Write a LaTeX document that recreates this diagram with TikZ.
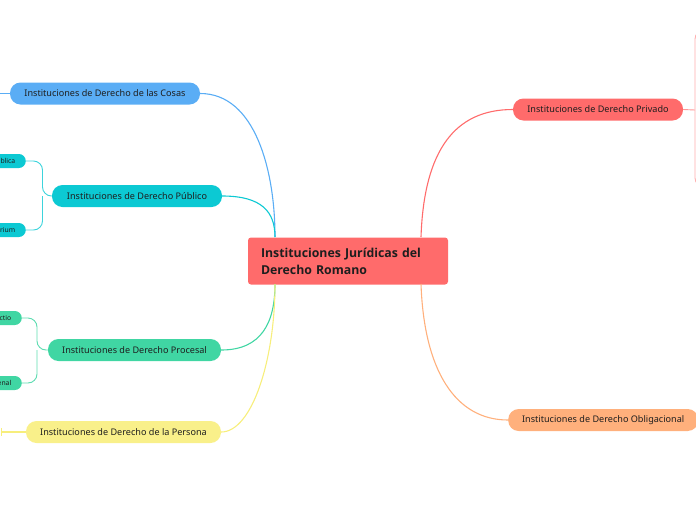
\documentclass[tikz,border=0pt]{standalone}
\usepackage{fontspec}
\setmainfont{Noto Sans}
\newfontfamily\rootfont{Open Sans}
\definecolor{cBlue}{HTML}{5AADF5}
\definecolor{cTeal}{HTML}{0CC9D3}
\definecolor{cGreen}{HTML}{40D6A3}
\definecolor{cYellow}{HTML}{F9F08A}
\definecolor{cYellowL}{HTML}{F7EE7C}
\definecolor{cRed}{HTML}{FF6B6B}
\definecolor{cOrange}{HTML}{FFB07C}
\definecolor{cText}{HTML}{1E1E1E}
\begin{document}
\begin{tikzpicture}[x=1pt,y=-1pt,
  pill/.style={rounded corners=10.5pt, minimum height=22pt, inner sep=0pt,
    font=\fontsize{9.1}{11}\selectfont, text=cText},
  smallpill/.style={rounded corners=7pt, minimum height=14pt, inner ysep=0pt, inner xsep=10.5pt,
    text width=50pt, align=right, anchor=east, font=\fontsize{6.8}{8}\selectfont, text=cText},
  link/.style={line width=1.1pt},
  sublink/.style={line width=0.9pt, rounded corners=9pt}]
\useasboundingbox (0,0) rectangle (696,520);
\clip (0,0) rectangle (696,520);

% central
\node[fill=cRed, rounded corners=3pt, minimum height=47pt, inner xsep=13pt, inner ysep=0pt,
  text width=174pt, align=left, font=\rootfont\bfseries\fontsize{12.3}{16.7}\selectfont, text=cText]
  (root) at (348,261) {Instituciones Jurídicas del\\Derecho Romano};
\coordinate (rTL) at (275,237);
\coordinate (rBL) at (275,284);
\coordinate (rTR) at (421,237);
\coordinate (rBR) at (421,284);

% left main topics
\node[pill, fill=cBlue, minimum width=190pt] (cosas) at (105,93.5) {Instituciones de Derecho de las Cosas};
\node[pill, fill=cTeal, minimum width=170pt] (pub) at (137,196) {Instituciones de Derecho Público};
\node[pill, fill=cGreen, minimum width=173pt] (proc) at (134.5,350) {Instituciones de Derecho Procesal};
\node[pill, fill=cYellow, minimum width=195pt] (pers) at (123.5,432) {Instituciones de Derecho de la Persona};

% right main topics
\node[pill, fill=cRed, minimum width=170pt] (priv) at (598,109.5) {Instituciones de Derecho Privado};
\node[pill, fill=cOrange, minimum width=190pt, anchor=west] (oblig) at (508,420) {Instituciones de Derecho Obligacional};

% sub topics (cut by the left edge)
\node[smallpill, fill=cTeal] (pubA) at (26,161) {blica};
\node[smallpill, fill=cTeal] (pubB) at (26,230) {rium};
\node[smallpill, fill=cGreen] (procA) at (22,318) {ctio};
\node[smallpill, fill=cGreen] (procB) at (22,383) {enal};

% connectors from root
\draw[link, cBlue] (cosas.east) .. controls (255,93.5) and (275,170) .. (rTL);
\draw[link, cTeal] (pub.east) .. controls (262,196) and (275,212) .. (rTL);
\draw[link, cGreen] (proc.east) .. controls (262,350) and (275,322) .. (rBL);
\draw[link, cYellowL] (pers.east) .. controls (252,432) and (275,360) .. (rBL);
\draw[link, cRed] (rTR) .. controls (424,150) and (455,109.5) .. (priv.west);
\draw[link, cOrange] (rBR) .. controls (424,370) and (455,420) .. (oblig.west);

% sub connectors
\coordinate (pubJ) at (42.5,196);
\draw[sublink, cTeal!80] (pubA.east) -| (pubJ) -- (pub.west);
\draw[sublink, cTeal!80] (pubB.east) -| (pubJ);
\coordinate (procJ) at (37,350);
\draw[sublink, cGreen!85] (procA.east) -| (procJ) -- (proc.west);
\draw[sublink, cGreen!85] (procB.east) -| (procJ);
\coordinate (cosasJ) at (0,93.5);
\draw[link, cBlue] (cosas.west) -- (cosasJ);
\coordinate (persJ) at (1.5,432);
\draw[link, cYellowL] (pers.west) -- (persJ);
\draw[line width=0.9pt, cYellowL] (1.5,428) -- (1.5,436);

\coordinate (privJ) at (695,110);
\coordinate (privA) at (712,30);
\coordinate (privB) at (712,187);
\draw[sublink, cRed!70] (priv.east) -- (privJ);
\draw[sublink, cRed!55] (privA) -| (privJ);
\draw[sublink, cRed!55] (privB) -| (privJ);
\end{tikzpicture}
\end{document}
